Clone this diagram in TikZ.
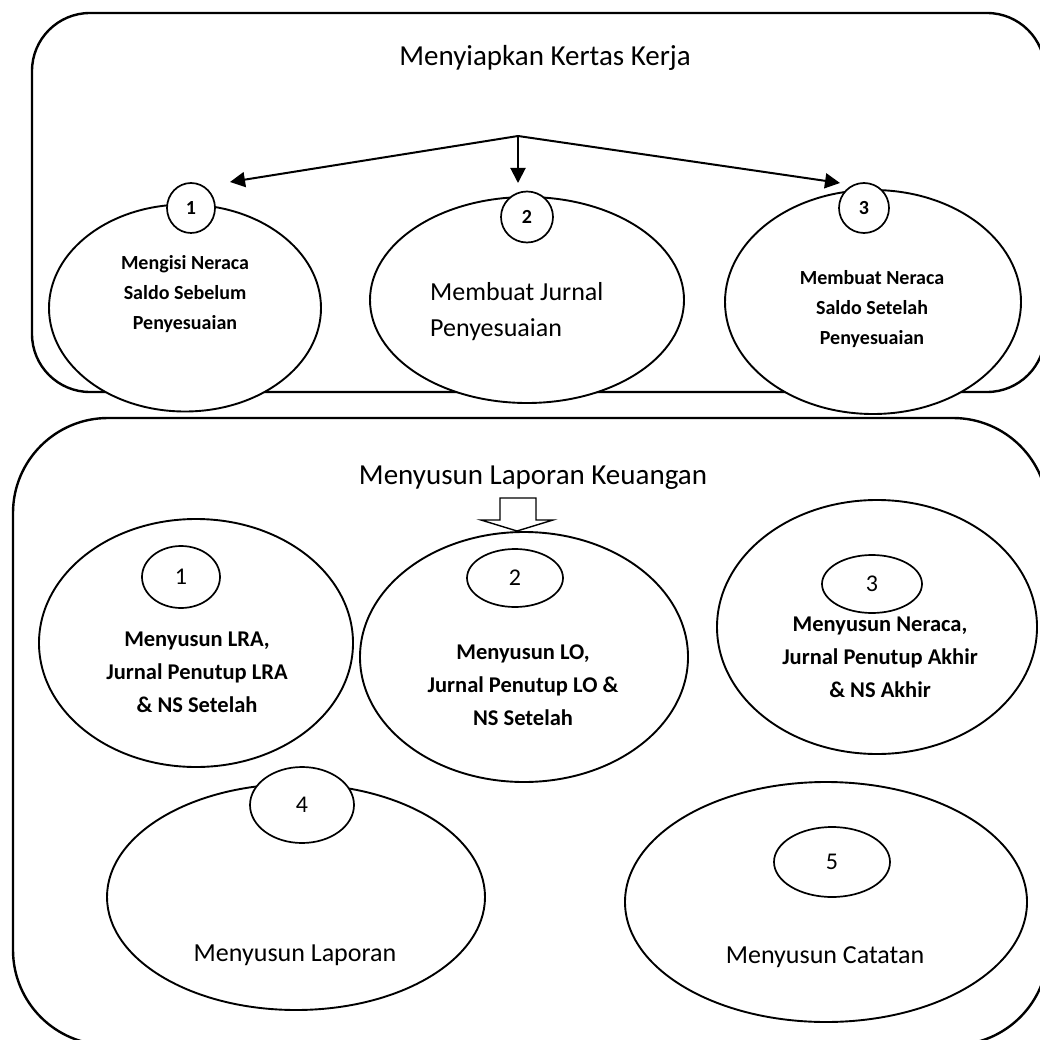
\documentclass[tikz,border=0pt]{standalone}
\usepackage{fontspec}
\setmainfont{Carlito}
\usetikzlibrary{shapes.geometric,arrows.meta}

\tikzset{
	kotak/.style={line width=2.4pt, rounded corners=#1},
	elips/.style={ellipse, draw, line width=1.9pt, fill=white, inner sep=0pt},
	nomor/.style={ellipse, draw, line width=1.7pt, fill=white, inner sep=0pt},
	teks/.style={align=center, inner sep=0pt},
	panah/.style={line width=2pt, -{Triangle[length=15pt,width=15pt]}}
}
\newcommand{\ukuran}[2]{\fontsize{#1}{#2}\selectfont}

\begin{document}
\begin{tikzpicture}[x=1pt,y=-1pt]
			\useasboundingbox (0,0) rectangle (1040,1040);

			% Kertas kerja
			\draw[kotak=58pt] (32,13) rectangle (1045,392);
			\node[teks, font={\ukuran{29}{35}}] (judulA) at (545,58) {Menyiapkan Kertas Kerja};

			% Cabang panah
			\coordinate (cabang) at (518,136);
			\coordinate (ujungA) at (230,182);
			\coordinate (ujungB) at (518,183);
			\coordinate (ujungC) at (840,183);
			\draw[panah] (cabang) -- (ujungA);
			\draw[panah] (cabang) -- (ujungB);
			\draw[panah] (cabang) -- (ujungC);

			% Tiga langkah kertas kerja
			\node[elips, minimum width=272, minimum height=207] (kerjaA) at (185,308) {};
			\node[elips, minimum width=314, minimum height=206] (kerjaB) at (527,300) {};
			\node[elips, minimum width=296, minimum height=224] (kerjaC) at (873,302) {};
			\node[nomor, minimum width=48, minimum height=50, font={\ukuran{20}{24}\bfseries}] (noA) at (191,208) {1};
			\node[nomor, minimum width=52, minimum height=51, font={\ukuran{20}{24}\bfseries}] (noB) at (527,217) {2};
			\node[nomor, minimum width=50, minimum height=50, font={\ukuran{20}{24}\bfseries}] (noC) at (864,208) {3};
			\node[teks, font={\ukuran{20}{30}\bfseries}] (isiA) at (185,294) {Mengisi Neraca\\Saldo Sebelum\\Penyesuaian};
			\node[teks, align=left, anchor=west, font={\ukuran{26}{36}}] (isiB) at (430,312) {Membuat Jurnal\\Penyesuaian};
			\node[teks, font={\ukuran{20}{30}\bfseries}] (isiC) at (872,309) {Membuat Neraca\\Saldo Setelah\\Penyesuaian};

			% Laporan keuangan
			\draw[kotak=95pt] (13,418) rectangle (1048,1045);
			\node[teks, font={\ukuran{29}{35}}] (judulB) at (533,478) {Menyusun Laporan Keuangan};
			\draw[line width=1.4pt, fill=white] (500,498) -- (536,498) -- (536,520) -- (553,520) -- (517,531) -- (481,520) -- (500,520) -- cycle;

			\node[elips, minimum width=314, minimum height=248] (lapA) at (196,643) {};
			\node[elips, minimum width=328, minimum height=250] (lapB) at (524,657) {};
			\node[elips, minimum width=320, minimum height=254] (lapC) at (877,627) {};
			\node[elips, minimum width=378, minimum height=226] (lapD) at (296,897) {};
			\node[elips, minimum width=402, minimum height=240] (lapE) at (826,902) {};

			\node[nomor, minimum width=78, minimum height=62, font={\ukuran{24}{28}}] (nA) at (181,577) {1};
			\node[nomor, minimum width=96, minimum height=58, font={\ukuran{24}{28}}] (nB) at (515,578) {2};
			\node[nomor, minimum width=100, minimum height=58, font={\ukuran{24}{28}}] (nC) at (872,584) {3};
			\node[nomor, minimum width=104, minimum height=76, font={\ukuran{24}{28}}] (nD) at (302,805) {4};
			\node[nomor, minimum width=116, minimum height=70, font={\ukuran{24}{28}}] (nE) at (832,862) {5};

			\node[teks, font={\ukuran{22.5}{33}\bfseries}] (tA) at (197,672) {Menyusun LRA,\\Jurnal Penutup LRA\\\& NS Setelah};
			\node[teks, font={\ukuran{22.5}{33}\bfseries}] (tB) at (523,685) {Menyusun LO,\\Jurnal Penutup LO \&\\NS Setelah};
			\node[teks, font={\ukuran{22.5}{33}\bfseries}] (tC) at (880,657) {Menyusun Neraca,\\Jurnal Penutup Akhir\\\& NS Akhir};
			\node[teks, font={\ukuran{26}{30}}] (tD) at (295,955) {Menyusun Laporan};
			\node[teks, font={\ukuran{26}{30}}] (tE) at (825,957) {Menyusun Catatan};

		\end{tikzpicture}
\end{document}
